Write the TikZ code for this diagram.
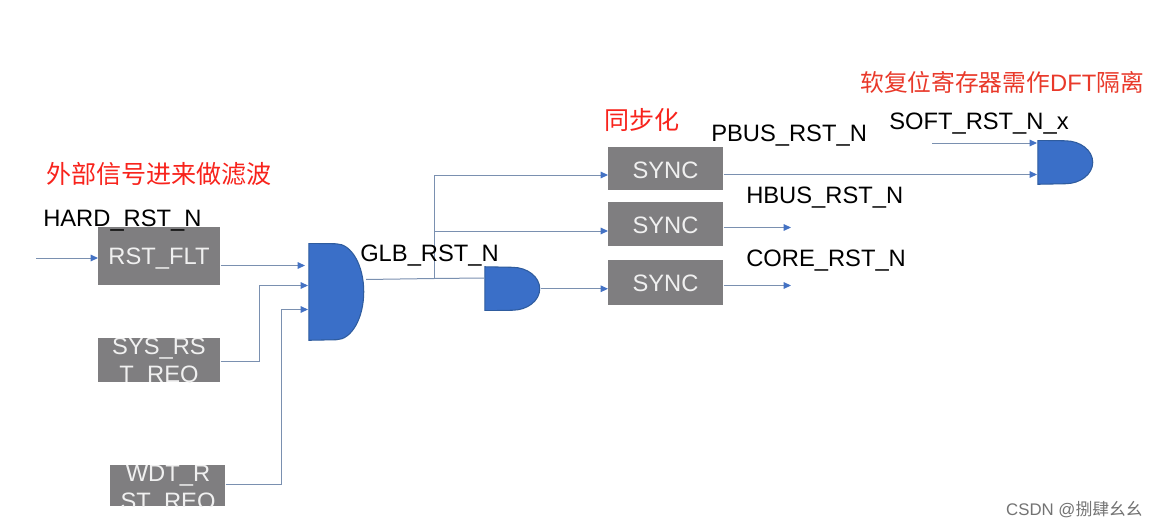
\documentclass[tikz,border=0pt]{standalone}
\usepackage{fontspec}
\setmainfont{Liberation Sans}
\newfontfamily\cjk{Noto Sans CJK SC}
\usetikzlibrary{arrows.meta}
\definecolor{wire}{HTML}{7A90B0}
\definecolor{tipblue}{HTML}{4472C4}
\definecolor{gatefill}{HTML}{3A6FC8}
\definecolor{gateedge}{HTML}{2F5C9E}
\definecolor{boxgray}{HTML}{7F7E80}
\tikzset{
  x=0.75pt,y=-0.75pt,
  wireline/.style={draw=wire,line width=0.75pt,-{Triangle[length=5.6pt,width=5pt,fill=tipblue,color=tipblue]}},
  plainwire/.style={draw=wire,line width=0.75pt},
  block/.style={fill=boxgray,inner sep=0pt,anchor=north west},
  blocktext/.style={text=white!94!black,font=\fontsize{17.8}{21}\selectfont,align=center,inner sep=0pt},
  signal/.style={text=black,font=\fontsize{17.8}{21}\selectfont,inner sep=0pt,anchor=base west},
  note/.style={text=#1,font=\cjk\fontsize{18.8}{22}\selectfont,inner sep=0pt,anchor=west},
  andgate/.style 2 args={inner sep=0pt,anchor=north west,minimum width=#1*0.75pt,minimum height=#2*0.75pt,
    path picture={
      \path[fill=gatefill,draw=gateedge,line width=0.8pt]
        ([xshift=0.4pt]path picture bounding box.south west) -- ([xshift=0.4pt]path picture bounding box.north west)
        -- ([xshift=-0.5*#1*0.75pt,yshift=-0.4pt]path picture bounding box.north east)
        arc[start angle=90,end angle=-90,x radius=0.5*#1*0.75pt-0.4pt,y radius=0.5*#2*0.75pt-0.4pt]
        -- cycle;
    }},
}
\begin{document}
\begin{tikzpicture}
\useasboundingbox[fill=white] (0,0) rectangle (1159,528);

% reset sources
\node[block,minimum width=91.5pt,minimum height=43.5pt] (flt) at (98,227) {};
\node[block,minimum width=91.5pt,minimum height=33pt] (sys) at (98,338) {};
\node[block,minimum width=86.25pt,minimum height=30.75pt] (wdt) at (110,465) {};
\node[blocktext] (flttext) at (159,259) {RST\_FLT};
\begin{scope}
  \clip (sys.south west) rectangle (sys.north east);
  \node[blocktext] (systext) at (159,363) {SYS\_RS\\T\_REQ};
\end{scope}
\begin{scope}
  \clip (wdt.south west) rectangle (wdt.north east);
  \node[blocktext] (wdttext) at (168,490) {WDT\_R\\ST\_REQ};
\end{scope}

% synchronisers
\node[block,minimum width=86.25pt,minimum height=32.25pt] (sync1) at (608,147) {};
\node[block,minimum width=86.25pt,minimum height=33pt] (sync2) at (608,202) {};
\node[block,minimum width=86.25pt,minimum height=33.75pt] (sync3) at (608,260) {};
\node[blocktext,anchor=base] (s1t) at (665.5,178) {SYNC};
\node[blocktext,anchor=base] (s2t) at (665.5,233.5) {SYNC};
\node[blocktext,anchor=base] (s3t) at (665.5,291) {SYNC};

% AND gates
\node[andgate={56}{97}] (g1) at (308,243) {};
\node[andgate={56}{44}] (g2) at (484,266.5) {};
\node[andgate={56}{44}] (g3) at (1037,140) {};

% pin and junction points
\coordinate (hardin) at (36,258);
\coordinate (g1a) at (305,265.5);
\coordinate (g1b) at (308,285.5);
\coordinate (g1c) at (308,309.5);
\coordinate (g1out) at (366,279.5);
\coordinate (split) at (434,278.5);
\coordinate (g2a) at (484,278);
\coordinate (softin) at (932,143);
\coordinate (sync1in) at (608,175);
\coordinate (hbusend) at (791,227.5);
\coordinate (coreend) at (791,285.5);

% connectors
\draw[wireline] (hardin) -- (hardin -| flt.west);
\draw[wireline] (flt.east |- g1a) -- (g1a);
\draw[wireline] (sys.east |- 0,361) -| (259,285.5) -- (g1b);
\draw[wireline] (wdt.east |- 0,484.5) -| (281.5,309.5) -- (g1c);
\draw[plainwire] (g1out) -- (split) -- (g2a);
\draw[wireline] (split) |- (sync1in);
\draw[wireline] (split |- 0,231) -- (sync2.west |- 0,231);
\draw[wireline] (g2.east) -- (sync3.west |- g2.east);
\draw[wireline] (sync1.east |- 0,174.5) -- (g3.west |- 0,174.5);
\draw[wireline] (sync2.east |- hbusend) -- (hbusend);
\draw[wireline] (sync3.east |- coreend) -- (coreend);
\draw[wireline] (softin) -- (g3.west |- softin);

% signal names
\node[signal] (hard) at (43,226) {HARD\_RST\_N};
\node[signal] (glb) at (360,261) {GLB\_RST\_N};
\node[signal] (pbus) at (711,141) {PBUS\_RST\_N};
\node[signal] (hbus) at (746,203) {HBUS\_RST\_N};
\node[signal] (core) at (746,266) {CORE\_RST\_N};
\node[signal] (soft) at (889,129) {SOFT\_RST\_N\_x};

% annotations
\definecolor{notered}{HTML}{F8231C}
\definecolor{noteorange}{HTML}{E9392A}
\node[note=notered] (n1) at (46,174) {外部信号进来做滤波};
\node[note=notered] (n2) at (604,120) {同步化};
\node[note=noteorange,font=\cjk\fontsize{17.8}{22}\selectfont] (n3) at (860,82) {软复位寄存器需作{\normalfont DFT}隔离};
\node[text=black!55,font=\cjk\fontsize{12.6}{15}\selectfont,inner sep=0pt,anchor=east] (mark) at (1143,510) {{\normalfont CSDN @}捌肆幺幺};
\end{tikzpicture}
\end{document}
